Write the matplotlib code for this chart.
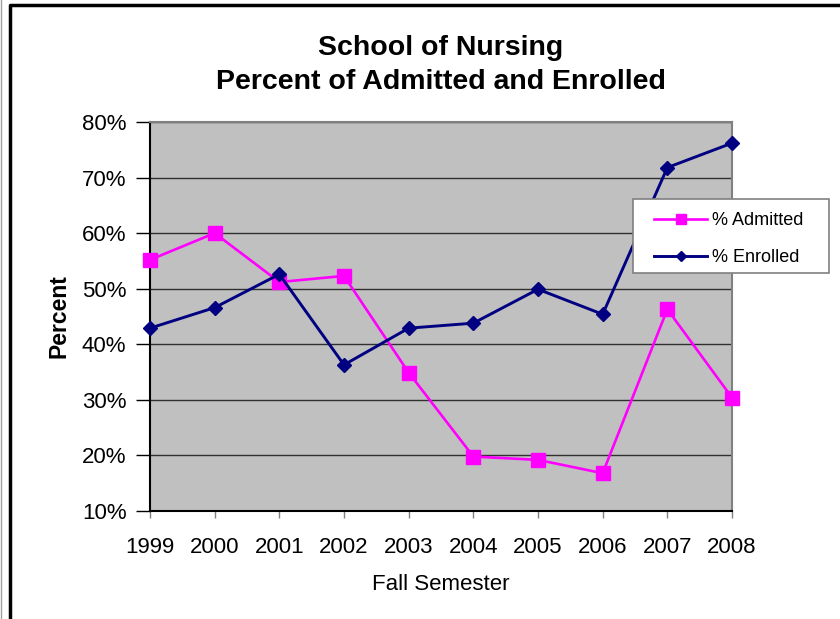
import matplotlib
matplotlib.use("Agg")
import matplotlib.pyplot as plt
from matplotlib.lines import Line2D
from matplotlib.patches import Rectangle
from matplotlib.ticker import FuncFormatter

plt.rcParams['font.family'] = ['Liberation Sans', 'DejaVu Sans']

years = ['1999', '2000', '2001', '2002', '2003', '2004', '2005', '2006', '2007', '2008']
admitted = [55.2, 60.0, 51.2, 52.3, 34.9, 19.8, 19.2, 16.8, 46.3, 30.4]
enrolled = [42.9, 46.6, 52.6, 36.3, 42.9, 43.8, 49.9, 45.4, 71.8, 76.2]
yticks = [10, 20, 30, 40, 50, 60, 70, 80]

W, H = 840, 619
fig = plt.figure(figsize=(W / 100, H / 100), dpi=100)
fig.patch.set_facecolor('white')

ax = fig.add_axes([150 / W, 1 - 511 / H, (732 - 150) / W, (511 - 122) / H])
ax.set_facecolor('#C0C0C0')

x = list(range(len(years)))
ax.plot(x, admitted, color='#FF00FF', lw=1.9, marker='s', ms=10,
        mec='#FF00FF', mfc='#FF00FF', label='% Admitted', clip_on=False, zorder=3)
ax.plot(x, enrolled, color='#000080', lw=2.1, marker='D', ms=7,
        mec='#000080', mfc='#000080', label='% Enrolled', clip_on=False, zorder=4)

ax.set_xlim(0, len(years) - 1)
ax.set_ylim(10, 80)
ax.set_xticks(x)
ax.set_xticklabels(years)
ax.set_yticks(yticks)
ax.yaxis.set_major_formatter(FuncFormatter(lambda v, p: f'{int(round(v))}%'))
ax.grid(axis='y', color='#303030', lw=1.0)
ax.set_axisbelow(True)

for s in ['top', 'right']:
    ax.spines[s].set_color('#808080')
    ax.spines[s].set_linewidth(1.5)
for s in ['left', 'bottom']:
    ax.spines[s].set_color('black')
    ax.spines[s].set_linewidth(1.5)

ax.tick_params(axis='y', direction='out', length=10, width=1, colors='black',
               labelsize=16, pad=7)
ax.tick_params(axis='x', direction='out', length=5, width=1, color='#808080',
               labelcolor='black', labelsize=16, pad=14)

ax.set_xlabel('Fall Semester', fontsize=16, labelpad=11)
ax.set_ylabel('Percent', fontsize=16.5, fontweight='bold', labelpad=8)

fig.text(441 / W, 1 - 65 / H, 'School of Nursing\nPercent of Admitted and Enrolled',
         ha='center', va='center', fontsize=20.5, fontweight='bold',
         linespacing=1.38)

# legend frame
fig.patches.append(Rectangle((633 / W, 1 - 273 / H), (829 - 633) / W, (273 - 199) / H,
                             transform=fig.transFigure, facecolor='white',
                             edgecolor='#808080', lw=1.2, zorder=4))
handles, labels = ax.get_legend_handles_labels()
leg = fig.legend(handles, labels, loc='upper left',
                 bbox_to_anchor=(640 / W, 1 - 198 / H), frameon=False,
                 fontsize=13, handlelength=2.9, handletextpad=0.3,
                 labelspacing=1.1, borderpad=0.3, markerscale=0.75)
leg.set_zorder(5)

# outer chart border
fig.add_artist(Line2D([9.5 / W, 9.5 / W, 1.0], [0, 1 - 4.5 / H, 1 - 4.5 / H],
                      transform=fig.transFigure, color='black', lw=2.5))
fig.add_artist(Line2D([1 / W, 1 / W], [0, 1],
                      transform=fig.transFigure, color='#A0A0A0', lw=1.0))

fig.savefig('out.png', dpi=100)
